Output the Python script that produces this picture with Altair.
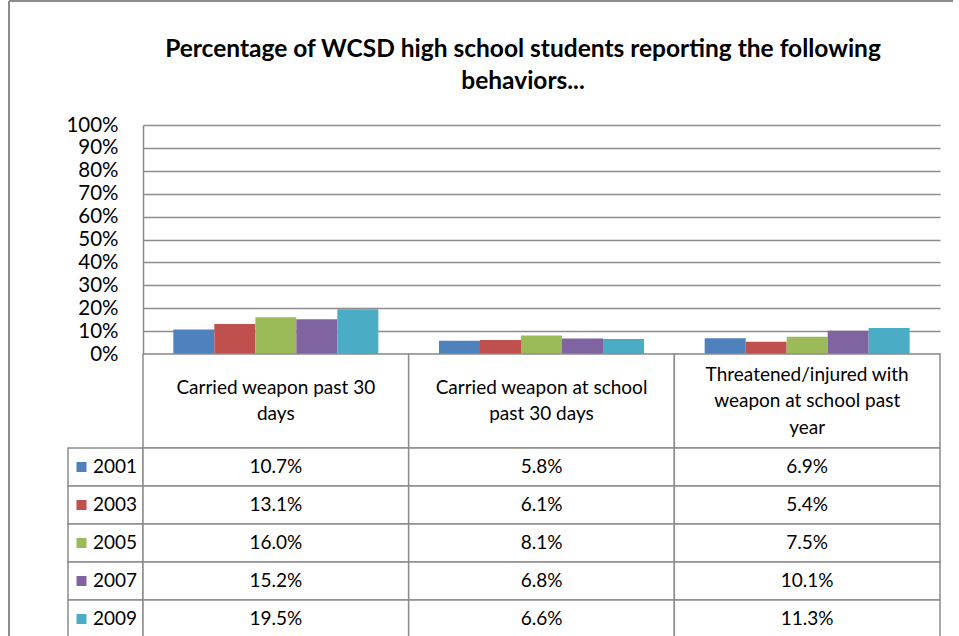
import altair as alt
import pandas as pd

# ---- data ----
categories = [
    "Carried weapon past 30 days",
    "Carried weapon at school past 30 days",
    "Threatened/injured with weapon at school past year",
]
header_labels = [
    ["Carried weapon past 30", "days"],
    ["Carried weapon at school", "past 30 days"],
    ["Threatened/injured with", "weapon at school past", "year"],
]
years = ["2001", "2003", "2005", "2007", "2009"]
v2001 = [10.7, 5.8, 6.9]
v2003 = [13.1, 6.1, 5.4]
v2005 = [16.0, 8.1, 7.5]
v2007 = [15.2, 6.8, 10.1]
v2009 = [19.5, 6.6, 11.3]
colors = ["#4F81BD", "#C0504D", "#9BBB59", "#8064A2", "#4BACC6"]
y_ticks = [0, 10, 20, 30, 40, 50, 60, 70, 80, 90, 100]
title_lines = ["Percentage of WCSD high school students reporting the following", "behaviors..."]

series = dict(zip(years, [v2001, v2003, v2005, v2007, v2009]))
df = pd.DataFrame(
    [{"category": c, "year": y, "value": vals[i]}
     for y, vals in series.items() for i, c in enumerate(categories)]
)
hdr = pd.DataFrame({"category": categories})
hdr_lines = pd.DataFrame(
    [{"category": c, "line": t, "pos": i - (len(lines) - 1) / 2}
     for c, lines in zip(categories, header_labels) for i, t in enumerate(lines)]
)
leg = pd.DataFrame({"year": years})
one = pd.DataFrame({"a": [0]})

FONT = "Lato"
GRID = "#8c8c8c"
W, H = 797, 229
HDR_H = 94
ROW_H = 38
LEG_W = 75
LINE_H = 26.5
TXT = 19

xscale = alt.Scale(domain=categories, paddingInner=0, paddingOuter=0)
yrow = alt.Scale(domain=years, paddingInner=0, paddingOuter=0)
cscale = alt.Scale(domain=years, range=colors)
half = HDR_H / 2 / LINE_H
ypos = alt.Scale(domain=[half, -half], zero=False, nice=False)

# ---- bar chart ----
bars = alt.Chart(df).mark_bar().encode(
    x=alt.X("category:N", scale=xscale, axis=None, sort=categories),
    xOffset=alt.XOffset("year:N", scale=alt.Scale(domain=years, paddingInner=0, paddingOuter=0.74)),
    y=alt.Y("value:Q", scale=alt.Scale(domain=[0, 100]),
            axis=alt.Axis(values=y_ticks, labelExpr="datum.value + '%'", title=None,
                          ticks=False, domainColor=GRID, domainWidth=1.5,
                          gridColor=GRID, gridWidth=1.5, labelFontSize=20.5,
                          labelColor="black", labelFont=FONT, labelPadding=25,
                          labelOverlap=False, labelBound=False)),
    color=alt.Color("year:N", scale=cscale, legend=None),
).properties(
    width=W, height=H,
    title=alt.TitleParams(text=title_lines, font=FONT, fontSize=24.5, fontWeight="bold",
                          color="black", anchor="middle", dx=-18.5, lineHeight=32, offset=21),
)

# ---- frame (in top-left spacer) ----
frame_left = alt.Chart(one).mark_rule(color=GRID, strokeWidth=2).encode(
    x=alt.value(-59), y=alt.value(-124), y2=alt.value(520))
frame_top = alt.Chart(one).mark_rule(color=GRID, strokeWidth=2).encode(
    x=alt.value(-59), x2=alt.value(885), y=alt.value(-124))
spacer_top = alt.layer(frame_left, frame_top).properties(width=LEG_W, height=H)

spacer_hdr = alt.Chart(one).mark_text(text="").encode(
    x=alt.value(0), y=alt.value(0)).properties(width=LEG_W, height=HDR_H)

# ---- header row ----
hdr_cells = alt.Chart(hdr).mark_rect(fill="white", stroke=GRID, strokeWidth=1.5).encode(
    x=alt.X("category:N", scale=xscale, axis=None, sort=categories),
    y=alt.value(0), y2=alt.value(HDR_H))
hdr_text = alt.Chart(hdr_lines).mark_text(font=FONT, fontSize=TXT, color="black",
                                          baseline="middle").encode(
    x=alt.X("category:N", scale=xscale, axis=None, sort=categories),
    y=alt.Y("pos:Q", scale=ypos, axis=None), text="line:N")
header = alt.layer(hdr_cells, hdr_text).properties(width=W, height=HDR_H)

# ---- legend column ----
leg_cells = alt.Chart(leg).mark_rect(fill="white", stroke=GRID, strokeWidth=1.5).encode(
    x=alt.value(0), x2=alt.value(LEG_W),
    y=alt.Y("year:N", scale=yrow, axis=None))
leg_sq = alt.Chart(leg).mark_square(size=100, opacity=1).encode(
    x=alt.value(13.5), y=alt.Y("year:N", scale=yrow, axis=None),
    color=alt.Color("year:N", scale=cscale, legend=None))
leg_txt = alt.Chart(leg).mark_text(font=FONT, fontSize=TXT, color="black", align="left",
                                   baseline="middle").encode(
    x=alt.value(25), y=alt.Y("year:N", scale=yrow, axis=None), text="year:N")
legend_col = alt.layer(leg_cells, leg_sq, leg_txt).properties(width=LEG_W, height=ROW_H * 5)

# ---- data rows ----
cells = alt.Chart(df).mark_rect(fill="white", stroke=GRID, strokeWidth=1.5).encode(
    x=alt.X("category:N", scale=xscale, axis=None, sort=categories),
    y=alt.Y("year:N", scale=yrow, axis=None))
cell_txt = alt.Chart(df).transform_calculate(
    lbl="format(datum.value, '.1f') + '%'"
).mark_text(font=FONT, fontSize=TXT, color="black", baseline="middle").encode(
    x=alt.X("category:N", scale=xscale, axis=None, sort=categories),
    y=alt.Y("year:N", scale=yrow, axis=None), text="lbl:N")
data_tbl = alt.layer(cells, cell_txt).properties(width=W, height=ROW_H * 5)

chart = alt.concat(
    spacer_top, bars, spacer_hdr, header, legend_col, data_tbl,
    columns=2, spacing=0, bounds="flush",
).properties(
    padding={"left": 8, "top": 0, "right": 5, "bottom": 0},
    background="white",
).configure_view(stroke=None)

chart.save("out.html", embed_options={"renderer": "svg", "actions": False})
